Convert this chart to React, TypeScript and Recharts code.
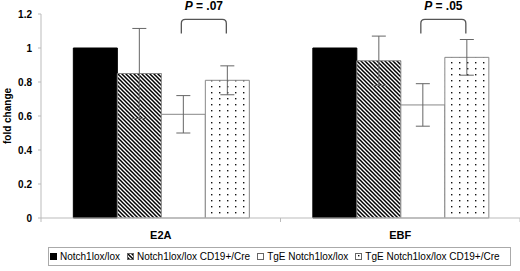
import React from 'react';
import { BarChart, Bar, XAxis, YAxis, ErrorBar, Legend, LabelList } from 'recharts';

const genes = ['E2A', 'EBF'];
const seriesNames = [
  'Notch1lox/lox',
  'Notch1lox/lox CD19+/Cre',
  'TgE Notch1lox/lox',
  'TgE Notch1lox/lox CD19+/Cre',
];
const ctrlValues = [1, 1];
const cd19Values = [0.85, 0.925];
const tgeValues = [0.61, 0.665];
const tgeCd19Values = [0.81, 0.945];
const cd19Errors = [0.265, 0.145];
const tgeErrors = [0.11, 0.125];
const tgeCd19Errors = [0.085, 0.105];
const pLabels = ['.07', '.05'];
const bracketLow = 1.085;
const bracketHigh = 1.168;
const pTextLevel = 1.225;
const yTicks = [0, 0.2, 0.4, 0.6, 0.8, 1, 1.2];

const data = genes.map((gene, i) => ({
  gene,
  ctrl: ctrlValues[i],
  cd19: cd19Values[i],
  tge: tgeValues[i],
  tgeCd19: tgeCd19Values[i],
  cd19Err: cd19Errors[i],
  tgeErr: tgeErrors[i],
  tgeCd19Err: tgeCd19Errors[i],
}));

const fills = ['#000', 'url(#hatch)', '#fff', 'url(#dots)'];
const font = '"Liberation Sans", Arial, sans-serif';

const Patterns = () => (
  <svg width={0} height={0} style={{ position: 'absolute' }}>
    <defs>
      <pattern id="hatch" patternUnits="userSpaceOnUse" width={4} height={4}>
        <rect width={4} height={4} fill="#fff" />
        <path d="M-1,-1 L5,5 M-1,3 L1,5 M3,-1 L5,1" stroke="#000" strokeWidth={1.5} />
      </pattern>
      <pattern id="dots" patternUnits="userSpaceOnUse" width={8} height={6}>
        <rect width={8} height={6} fill="#fff" />
        <rect x={3} y={2} width={1.4} height={1.4} fill="#111" />
      </pattern>
    </defs>
  </svg>
);

// bracket + p value drawn over the white and dotted bars of each gene
const Bracket = (props: any) => {
  const vb = props.viewBox ?? props;
  const { x, y, width, height } = vb;
  const value = Number(props.value);
  if (!value || !height) return null;
  const base = y + height;
  const yOf = (v: number) => base - (v * height) / value;
  const xl = x - width / 2 - 2;
  const xr = x + width / 2 - 1;
  const yt = yOf(bracketHigh);
  const yb = yOf(bracketLow);
  const r = 4;
  const idx = props.index ?? 0;
  return (
    <g>
      <path
        d={`M${xl},${yb} L${xl},${yt + r} Q${xl},${yt} ${xl + r},${yt} L${xr - r},${yt} Q${xr},${yt} ${xr},${yt + r} L${xr},${yb}`}
        fill="none"
        stroke="#555"
        strokeWidth={1.3}
      />
      <text x={(xl + xr) / 2} y={yOf(pTextLevel)} textAnchor="middle" fontFamily={font} fontSize={12} fontWeight="bold" fill="#000">
        <tspan fontStyle="italic">P</tspan> = {pLabels[idx]}
      </text>
    </g>
  );
};

const XTick = (props: any) => {
  const { x, y, payload, index } = props;
  const off = payload?.offset;
  return (
    <g>
      {off ? <line x1={x - off} x2={x - off} y1={y} y2={y + 4} stroke="#bbb" /> : null}
      {off && index === genes.length - 1 ? <line x1={x + off} x2={x + off} y1={y} y2={y + 4} stroke="#bbb" /> : null}
      <text x={x} y={y + 21} textAnchor="middle" fontFamily={font} fontSize={11} fontWeight="bold" fill="#000">
        {payload.value}
      </text>
    </g>
  );
};

const LegendIcon = ({ i }: { i: number }) => (
  <svg width={7} height={7} style={{ marginRight: 3, flex: 'none', display: 'block' }}>
    <rect x={0.5} y={0.5} width={6} height={6} fill={fills[i]} stroke={i === 0 ? '#000' : '#666'} />
  </svg>
);

const renderLegend = () => (
  <div
    style={{
      display: 'flex',
      width: 'max-content',
      alignItems: 'center',
      border: '1px solid #aaa',
      height: 17,
      lineHeight: '17px',
      padding: '0 10px 0 1px',
      fontFamily: font,
      fontSize: 10,
      color: '#000',
      whiteSpace: 'nowrap',
      background: '#fff',
    }}
  >
    {seriesNames.map((name, i) => (
      <span key={name} style={{ display: 'flex', alignItems: 'center', marginRight: i < seriesNames.length - 1 ? 7 : 0 }}>
        <LegendIcon i={i} />
        {name}
      </span>
    ))}
  </div>
);

export default function App() {
  return (
    <div style={{ width: 520, height: 271, background: '#fff' }}>
      <style>{'body{margin:0}'}</style>
      <Patterns />
      <BarChart
        width={520}
        height={271}
        data={data}
        margin={{ top: 14, right: 0, bottom: 5, left: 0 }}
        barGap={0}
        barCategoryGap="13.5%"
      >
        <XAxis
          dataKey="gene"
          axisLine={{ stroke: '#bbb' }}
          tickLine={false}
          tickSize={0}
          tickMargin={0}
          height={29}
          tick={<XTick />}
        />
        <YAxis
          domain={[0, 1.2]}
          ticks={yTicks}
          width={41}
          axisLine={{ stroke: '#bbb' }}
          tickLine={{ stroke: '#bbb' }}
          tickSize={3}
          tickMargin={6}
          tick={{ fontFamily: font, fontSize: 10, fontWeight: 'bold', fill: '#000' }}
          tickFormatter={(v: number) => String(+v.toFixed(1))}
          label={{
            value: 'fold change',
            angle: -90,
            position: 'center',
            dx: -13,
            style: { fontFamily: font, fontSize: 10, fontWeight: 'bold', fill: '#000' },
          }}
        />
        <Legend verticalAlign="bottom" wrapperStyle={{ left: 48, bottom: 5, width: 'auto' }} content={renderLegend} />
        <Bar dataKey="ctrl" name={seriesNames[0]} fill={fills[0]} stroke="#000" isAnimationActive={false} />
        <Bar dataKey="cd19" name={seriesNames[1]} fill={fills[1]} stroke="#888" isAnimationActive={false}>
          <ErrorBar dataKey="cd19Err" width={7} stroke="#666" strokeWidth={1} />
        </Bar>
        <Bar dataKey="tge" name={seriesNames[2]} fill={fills[2]} stroke="#888" isAnimationActive={false}>
          <ErrorBar dataKey="tgeErr" width={7} stroke="#666" strokeWidth={1} />
        </Bar>
        <Bar dataKey="tgeCd19" name={seriesNames[3]} fill={fills[3]} stroke="#888" isAnimationActive={false}>
          <ErrorBar dataKey="tgeCd19Err" width={7} stroke="#666" strokeWidth={1} />
          <LabelList dataKey="tgeCd19" content={<Bracket />} />
        </Bar>
      </BarChart>
    </div>
  );
}
